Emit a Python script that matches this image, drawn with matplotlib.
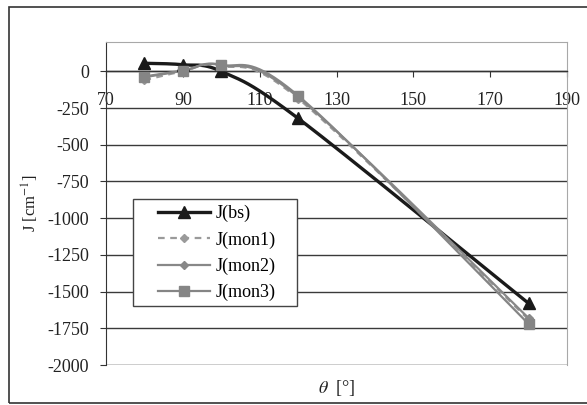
import numpy as np
import matplotlib
matplotlib.use("Agg")
import matplotlib.pyplot as plt
from matplotlib.patches import Rectangle

plt.rcParams["font.family"] = ["Liberation Serif", "DejaVu Serif"]
plt.rcParams["mathtext.fontset"] = "stix"
plt.rcParams["axes.unicode_minus"] = False

# scattering angle and exchange coupling values
theta = [80, 90, 100, 120, 180]
j_bs = [55, 45, 0, -320, -1580]
j_mon1 = [-60, 0, 38, -185, -1690]
j_mon2 = [-40, 3, 42, -175, -1680]
j_mon3 = [-35, 5, 45, -165, -1720]

yticks = list(range(-2000, 1, 250))
xticks = list(range(70, 191, 20))


def smooth(x, y, n=40):
    # Excel-style smoothed line: cubic Bezier through each point
    x = np.asarray(x, float)
    y = np.asarray(y, float)
    pts = np.column_stack([x, y])
    out = [pts[0]]
    for i in range(len(pts) - 1):
        p0 = pts[i - 1] if i > 0 else pts[i]
        p1 = pts[i]
        p2 = pts[i + 1]
        p3 = pts[i + 2] if i + 2 < len(pts) else pts[i + 1]
        c1 = p1 + (p2 - p0) / 6.0
        c2 = p2 - (p3 - p1) / 6.0
        t = np.linspace(0, 1, n)[1:, None]
        seg = ((1 - t) ** 3 * p1 + 3 * (1 - t) ** 2 * t * c1
               + 3 * (1 - t) * t ** 2 * c2 + t ** 3 * p2)
        out.extend(seg)
    out = np.array(out)
    return out[:, 0], out[:, 1]


W, H = 587, 405
fig = plt.figure(figsize=(W / 100, H / 100), dpi=100)
ax = fig.add_axes([106 / W, 1 - 365 / H, 461 / W, 323 / H])

# outer chart frame
fig.add_artist(Rectangle((9 / W, 2 / H), 1.2, 396 / H,
                         transform=fig.transFigure, fill=False,
                         edgecolor="#333333", lw=1.2))

series = [
    ("J(bs)", j_bs, dict(color="#1a1a1a", lw=2.4, ls="-", marker="^", ms=9)),
    ("J(mon1)", j_mon1, dict(color="#9a9a9a", lw=1.6, ls=(0, (3, 2.5)), marker="D", ms=4)),
    ("J(mon2)", j_mon2, dict(color="#888888", lw=1.6, ls="-", marker="D", ms=4)),
    ("J(mon3)", j_mon3, dict(color="#858585", lw=1.6, ls="-", marker="s", ms=7.5)),
]

for name, vals, st in series:
    sx, sy = smooth(theta, vals)
    ax.plot(sx, sy, color=st["color"], lw=st["lw"], ls=st["ls"], zorder=3)
    ax.plot(theta, vals, ls="none", marker=st["marker"], ms=st["ms"],
            color=st["color"], zorder=4)
    # legend proxy
    ax.plot([], [], color=st["color"], lw=st["lw"], ls=st["ls"],
            marker=st["marker"], ms=st["ms"], label=name)

ax.set_xlim(70, 190)
ax.set_ylim(-2000, 200)
ax.set_xticks(xticks)
ax.set_yticks(yticks)
ax.grid(axis="y", color="#3a3a3a", lw=1.0)
ax.set_axisbelow(True)

for side in ["top", "right"]:
    ax.spines[side].set_color("#a8a8a8")
ax.spines["left"].set_color("#333333")
ax.spines["bottom"].set_position(("data", 0))
ax.spines["bottom"].set_color("#333333")
ax.spines["bottom"].set_linewidth(1.0)

ax.tick_params(axis="x", direction="out", length=4, pad=11, labelsize=13,
               color="#333333", labelcolor="#222222")
ax.tick_params(axis="y", direction="out", length=4, pad=8, labelsize=13,
               color="#333333", labelcolor="#222222")

# bottom plot-area border below the axis crossing
ax.axhline(-2000, color="#a8a8a8", lw=1.0, zorder=1)

ax.set_ylabel(r"J [cm$^{-1}$]", fontsize=12, color="#222222", labelpad=5)
fig.text(337 / W, 1 - 388 / H, r"$\theta$  [°]", fontsize=13,
         color="#222222", ha="center", va="center")

# legend box drawn separately so the side padding can be wider than top/bottom
ax.add_patch(Rectangle(((133 - 106) / 461, (365 - 306) / 323),
                       164 / 461, 107 / 323, transform=ax.transAxes,
                       facecolor="white", edgecolor="#444444", lw=1.0,
                       zorder=5))
leg = ax.legend(loc="upper left", bbox_to_anchor=((158 - 106) / 461, (365 - 205) / 323),
                fontsize=13, frameon=False, handlelength=2.9,
                labelspacing=0.5, borderpad=0, handletextpad=0.3,
                borderaxespad=0)
leg.set_zorder(6)

fig.savefig("out.png", dpi=100)
